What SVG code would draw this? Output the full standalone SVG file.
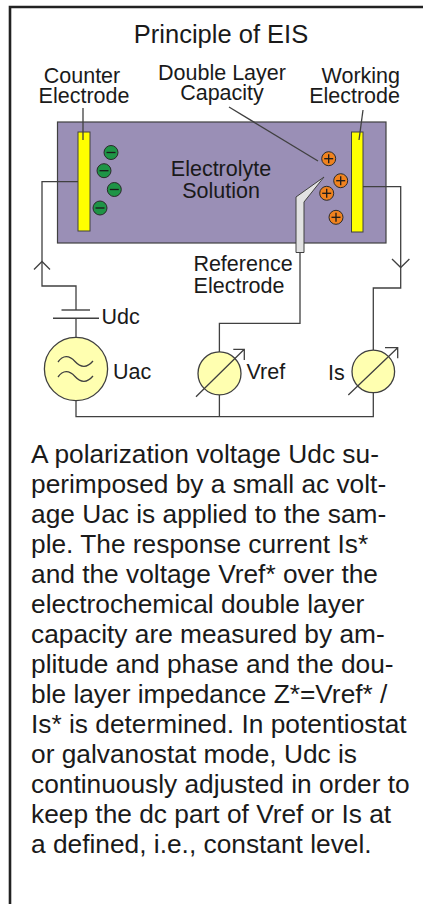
<svg xmlns="http://www.w3.org/2000/svg" width="423" height="904" viewBox="0 0 423 904">
<style>
.t{font-family:"Liberation Sans",Arial,sans-serif;fill:#1a1a1a}
.lbl{font-size:21.5px}
.body{font-size:26.3px}
.w{fill:none;stroke:#404040;stroke-width:1.3}
.neg{fill:#1e9446;stroke:#2a2a2a;stroke-width:1}
.pos{fill:#f0821e;stroke:#2a2a2a;stroke-width:1}
.sign{stroke:#1a1a1a;stroke-width:1.3;fill:none}
.meter{fill:#ffffb0;stroke:#404040;stroke-width:1.3}
</style>
<defs>
<g id="minus"><circle r="7" class="neg"/><line x1="-4.5" y1="0" x2="4.5" y2="0" class="sign"/></g>
<g id="plus"><circle r="7" class="pos"/><line x1="-4.5" y1="0" x2="4.5" y2="0" class="sign"/><line x1="0" y1="-4.5" x2="0" y2="4.5" class="sign"/></g>
</defs>
<rect width="423" height="904" fill="#fff"/>
<g id="frame"><path d="M10,904 V7 H423" fill="none" stroke="#222" stroke-width="2.6"/></g>
<g id="title"><text class="t" x="221" y="43" font-size="25.5" text-anchor="middle">Principle of EIS</text></g>

<g id="cell">
<rect x="57.5" y="122" width="328.5" height="121" fill="#9a8fb6" stroke="#404040" stroke-width="1.2"/>
<text class="t lbl" x="221" y="176" text-anchor="middle">Electrolyte</text>
<text class="t lbl" x="221" y="198" text-anchor="middle">Solution</text>
</g>
<g id="counter-electrode">
<rect x="78" y="132" width="12" height="99" fill="#ffff00" stroke="#404040" stroke-width="1"/>
<text class="t lbl" x="82" y="83" text-anchor="middle">Counter</text>
<text class="t lbl" x="84" y="103" text-anchor="middle">Electrode</text>
</g>
<g id="working-electrode">
<rect x="351.5" y="132" width="11.5" height="100" fill="#ffff00" stroke="#404040" stroke-width="1"/>
<text class="t lbl" x="400" y="83" text-anchor="end">Working</text>
<text class="t lbl" x="400" y="103" text-anchor="end">Electrode</text>
</g>
<g id="double-layer">
<text class="t lbl" x="222" y="80" text-anchor="middle">Double Layer</text>
<text class="t lbl" x="222" y="100" text-anchor="middle">Capacity</text>
</g>
<g id="ions">
<use href="#minus" x="111" y="152.5"/>
<use href="#minus" x="104" y="170.7"/>
<use href="#minus" x="114.3" y="189.5"/>
<use href="#minus" x="100" y="208"/>
<use href="#plus" x="328.7" y="158.7"/>
<use href="#plus" x="340.7" y="180.7"/>
<use href="#plus" x="326.7" y="193.3"/>
<use href="#plus" x="336" y="217.3"/>
</g>
<g id="reference-electrode">
<polygon points="296,197 324,177 304,202 304,252.5 296,252.5" fill="#e2e2e2" stroke="#404040" stroke-width="1"/>
<text class="t lbl" x="243" y="271" text-anchor="middle">Reference</text>
<text class="t lbl" x="239" y="293" text-anchor="middle">Electrode</text>
</g>
<g id="udc">
<line x1="61.5" y1="310" x2="90" y2="310" stroke="#404040" stroke-width="1.4"/>
<line x1="53" y1="318.3" x2="99" y2="318.3" stroke="#404040" stroke-width="1.4"/>
<text class="t lbl" x="101.5" y="323.5">Udc</text>
</g>
<g id="uac">
<circle cx="76" cy="369" r="31.6" class="meter"/>
<path d="M58,362 C63,355 69,355 75,361.5 S87,368 93,361" class="w"/>
<path d="M58,377 C63,370 69,370 75,376.5 S87,383 93,376" class="w"/>
<text class="t lbl" x="113" y="378.5">Uac</text>
</g>
<g id="vref">
<circle cx="219.5" cy="373.4" r="21.5" class="meter"/>
<path d="M196,396.7 L244.3,349.3 M233.3,349.3 H244.3 V360" class="w"/>
<text class="t lbl" x="246.5" y="378.5">Vref</text>
</g>
<g id="is">
<circle cx="373.3" cy="371.4" r="21.3" class="meter"/>
<path d="M348.3,395 L397.7,347.7 M385,347.7 H397.7 V358.3" class="w"/>
<text class="t lbl" x="328" y="380">Is</text>
</g>
<g id="connectors">
<path class="w" d="M83,108 V140"/>
<path class="w" d="M363,110 L359,140"/>
<path class="w" d="M229,107 L318,161"/>
<path class="w" d="M78,181.7 H42 V286 H76 V310"/>
<path class="w" d="M34,269.5 L42,261.5 L50,269.5"/>
<path class="w" d="M76,318.3 V337.4"/>
<path class="w" d="M363,186.7 H400.7 V288 H373.3 V350"/>
<path class="w" d="M392,259 L400.7,267.5 L409.4,259"/>
<path class="w" d="M300,252.5 V323.3 H219.4 V352"/>
<path class="w" d="M76,400.6 V416.7 H373.3 V392.7 M219.4,394.9 V416.7"/>
</g>
<g id="description" class="t body">
<text x="31" y="463">A polarization voltage Udc su-</text>
<text x="31" y="493">perimposed by a small ac volt-</text>
<text x="31" y="523">age Uac is applied to the sam-</text>
<text x="31" y="553">ple. The response current Is*</text>
<text x="31" y="583">and the voltage Vref* over the</text>
<text x="31" y="613">electrochemical double layer</text>
<text x="31" y="643">capacity are measured by am-</text>
<text x="31" y="673">plitude and phase and the dou-</text>
<text x="31" y="703">ble layer impedance Z*=Vref* /</text>
<text x="31" y="733">Is* is determined. In potentiostat</text>
<text x="31" y="763">or galvanostat mode, Udc is</text>
<text x="31" y="793">continuously adjusted in order to</text>
<text x="31" y="823">keep the dc part of Vref or Is at</text>
<text x="31" y="853">a defined, i.e., constant level.</text>
</g>
</svg>
